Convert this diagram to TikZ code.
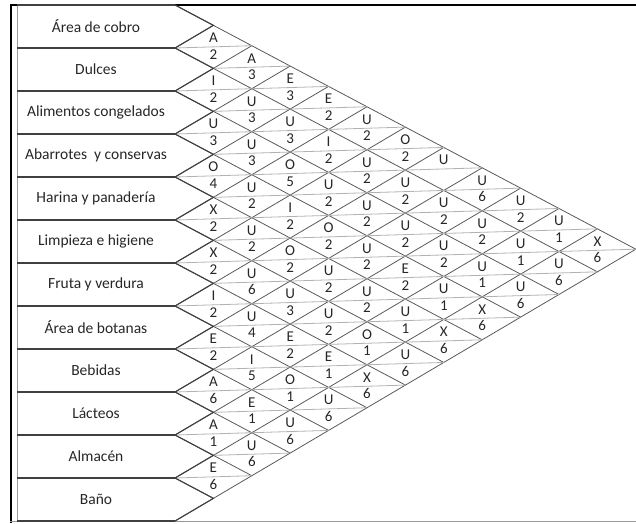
\documentclass[tikz,border=0pt]{standalone}
\usepackage{fontspec}
\setmainfont{Carlito}
\tikzset{
  boxline/.style={draw=black!75,line width=1.1pt},
  diag/.style={draw=black!65,line width=0.8pt},
  midline/.style={draw=black!30,line width=0.8pt},
  dept/.style={font=\fontsize{15.5}{16}\selectfont,text=black!85,inner sep=0pt},
  cell/.style={font=\fontsize{15}{15}\selectfont,text=black!85,inner sep=0pt,anchor=base}
}
\begin{document}
\begin{tikzpicture}[x=1pt,y=-1pt]
\useasboundingbox (0,0) rectangle (636,523);
\def\dx{38.4}
\draw[line width=2pt] (10.5,523) -- (10.5,4.5) -- (636,4.5);
\draw[black!40] (17,5) -- (17,521.5);
\draw[black!40] (10,521.5) -- (636,521.5);
\foreach \r in {0,...,12}
  \draw[boxline] (17,{5+43*\r}) -- (175,{5+43*\r});
\foreach \name [count=\r] in {Área de cobro,Dulces,Alimentos congelados,{Abarrotes\ \ y conservas},
  Harina y panadería,Limpieza e higiene,Fruta y verdura,Área de botanas,Bebidas,Lácteos,Almacén,Baño}
  \node[dept] (dep\r) at (96,{43*\r-16.5}) {\name};
\begin{scope}[shift={(175,0)},yslant=0.03]
  \foreach \k in {0,...,11}
    \draw[diag] (0,{5+43*\k}) -- ({(12-\k)*\dx},{5+43*\k+(12-\k)*21.5});
  \foreach \k in {1,...,12}
    \draw[diag] (0,{5+43*\k}) -- ({\k*\dx},{5+43*\k-\k*21.5});
  \foreach \m in {2,...,22}{
    \pgfmathsetmacro\xa{mod(\m,2)*\dx}
    \pgfmathsetmacro\xb{min(\m,24-\m)*\dx}
    \draw[midline] (\xa,{5+21.5*\m}) -- (\xb,{5+21.5*\m});
  }
  \foreach \r in {1,...,12}
    \draw[boxline] (0,{43*\r-38}) -- (\dx,{43*\r-16.5}) -- (0,{43*\r+5});
  \foreach \i/\j/\l/\n in {
    1/2/A/2,1/3/A/3,1/4/E/3,1/5/E/2,1/6/U/2,1/7/O/2,1/8/U/{},1/9/U/6,1/10/U/2,1/11/U/1,1/12/X/6,
    2/3/I/2,2/4/U/3,2/5/U/3,2/6/I/2,2/7/U/2,2/8/U/2,2/9/U/2,2/10/U/2,2/11/U/1,2/12/U/6,
    3/4/U/3,3/5/U/3,3/6/O/5,3/7/U/2,3/8/U/2,3/9/U/2,3/10/U/2,3/11/U/1,3/12/U/6,
    4/5/O/4,4/6/U/2,4/7/I/2,4/8/O/2,4/9/U/2,4/10/E/2,4/11/U/1,4/12/X/6,
    5/6/X/2,5/7/U/2,5/8/O/2,5/9/U/2,5/10/U/2,5/11/U/1,5/12/X/6,
    6/7/X/2,6/8/U/6,6/9/U/3,6/10/U/2,6/11/O/1,6/12/U/6,
    7/8/I/2,7/9/U/4,7/10/E/2,7/11/E/1,7/12/X/6,
    8/9/E/2,8/10/I/5,8/11/O/1,8/12/U/6,
    9/10/A/6,9/11/E/1,9/12/U/6,
    10/11/A/1,10/12/U/6,
    11/12/E/6}{
    \pgfmathsetmacro\cx{(\j-\i)*\dx}
    \pgfmathsetmacro\cy{5+21.5*(\i+\j-1)}
    \node[cell] (l\i-\j) at (\cx,{\cy-4}) {\l};
    \node[cell] (n\i-\j) at (\cx,{\cy+12.5}) {\n};
  }
\end{scope}
\end{tikzpicture}
\end{document}
